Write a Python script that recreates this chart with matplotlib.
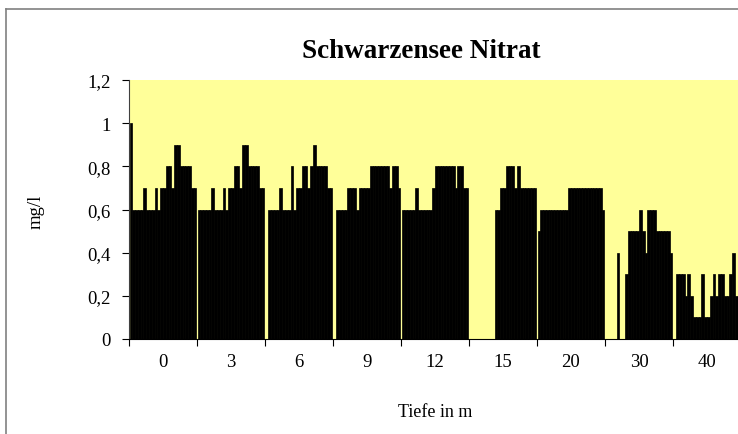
import numpy as np
import matplotlib.pyplot as plt
from matplotlib.lines import Line2D

n = np.nan

# Tiefe in m (categories)
depths = ['0', '3', '6', '9', '12', '15', '20', '30', '40']

# nitrate per sampling date (24 dates) at each depth, mg/l
nitrat_0 = [1.0, .6, .6, .6, .6, .7, .6, .6, .6, .7, .6, .7, .7, .8, .8, .7, .9, .9, .8, .8, .8, .8, .7, .7]
nitrat_3 = [.6, .6, .6, .6, .6, .7, .6, .6, .6, .7, .6, .7, .7, .8, .8, .7, .9, .9, .8, .8, .8, .8, .7, .7]
nitrat_6 = [n, .6, .6, .6, .6, .7, .6, .6, .6, .8, .6, .7, .7, .8, .8, .7, .8, .9, .8, .8, .8, .8, .7, .7]
nitrat_9 = [n, .6, .6, .6, .6, .7, .7, .7, .6, .7, .7, .7, .7, .8, .8, .8, .8, .8, .8, .8, .7, .8, .8, .7]
nitrat_12 = [.6, .6, .6, .6, .6, .7, .6, .6, .6, .6, .6, .7, .8, .8, .8, .8, .8, .8, .8, .7, .8, .8, .7, .7]
nitrat_15 = [n, n, n, n, n, n, n, n, n, .6, .6, .7, .7, .8, .8, .8, .7, .8, .7, .7, .7, .7, .7, .7]
nitrat_20 = [.5, .6, .6, .6, .6, .6, .6, .6, .6, .6, .6, .7, .7, .7, .7, .7, .7, .7, .7, .7, .7, .7, .7, .6]
nitrat_30 = [n, n, n, n, .4, n, n, .3, .5, .5, .5, .5, .6, .5, .4, .6, .6, .6, .5, .5, .5, .5, .5, .4]
nitrat_40 = [n, .3, .3, .3, .2, .3, .2, .1, .1, .1, .3, .1, .1, .2, .3, .2, .3, .3, .2, .2, .3, .4, .2, .2]

yticks = [0, 0.2, 0.4, 0.6, 0.8, 1.0, 1.2]
ytick_labels = ['0', '0,2', '0,4', '0,6', '0,8', '1', '1,2']

plt.rcParams['font.family'] = ['Liberation Serif', 'DejaVu Serif']

W, H = 738, 435
fig = plt.figure(figsize=(W / 100, H / 100), dpi=100)
fig.patch.set_facecolor('white')

# plot area: x 129..741, y 81..340 px
ax = fig.add_axes([129 / W, 1 - 340 / H, (741 - 129) / W, (340 - 81) / H])
ax.set_facecolor('#FFFF99')

groups = [nitrat_0, nitrat_3, nitrat_6, nitrat_9, nitrat_12, nitrat_15, nitrat_20, nitrat_30, nitrat_40]
n_dates = len(nitrat_0)
bar_w = 0.985 / n_dates
for g, vals in enumerate(groups):
    vals = np.array(vals, dtype=float)
    xs = g - 0.4925 + (np.arange(n_dates) + 0.5) * bar_w
    ok = ~np.isnan(vals)
    ax.bar(xs[ok], vals[ok], width=bar_w, color='black', edgecolor='black', linewidth=0.5)

ax.set_xlim(-0.5, len(depths) - 0.5)
ax.set_ylim(0, 1.2)

ax.set_yticks(yticks)
ax.set_yticklabels(ytick_labels, fontsize=13.5)
ax.tick_params(axis='y', direction='out', length=5, width=0.8, pad=8)

# ticks at category borders, labels in the middle
ax.set_xticks(np.arange(len(depths) + 1) - 0.5)
ax.set_xticklabels([])
ax.set_xticks(np.arange(len(depths)), minor=True)
ax.set_xticklabels(depths, minor=True, fontsize=13.5)
ax.tick_params(axis='x', which='major', direction='out', length=5, width=0.8)
ax.tick_params(axis='x', which='minor', length=0, pad=10)

for side in ['top', 'right']:
    ax.spines[side].set_visible(False)
ax.spines['left'].set_color('#404040')
ax.spines['bottom'].set_color('black')

fig.text(421 / W, 1 - 57.5 / H, 'Schwarzensee Nitrat', fontsize=19.5, fontweight='bold',
         ha='center', va='baseline')
fig.text(36 / W, 1 - 212 / H, 'mg/l', fontsize=13.5, rotation=90, ha='center', va='center')
fig.text(435 / W, 1 - 413 / H, 'Tiefe in m', fontsize=13, ha='center', va='center')

# chart area border (left and top visible)
fig.add_artist(Line2D([5.5 / W, 5.5 / W], [1 - 10 / H, 0], color='#808080', lw=1.2))
fig.add_artist(Line2D([5.5 / W, 1], [1 - 10 / H, 1 - 10 / H], color='#808080', lw=1.2))

plt.savefig('out.png', dpi=100)
